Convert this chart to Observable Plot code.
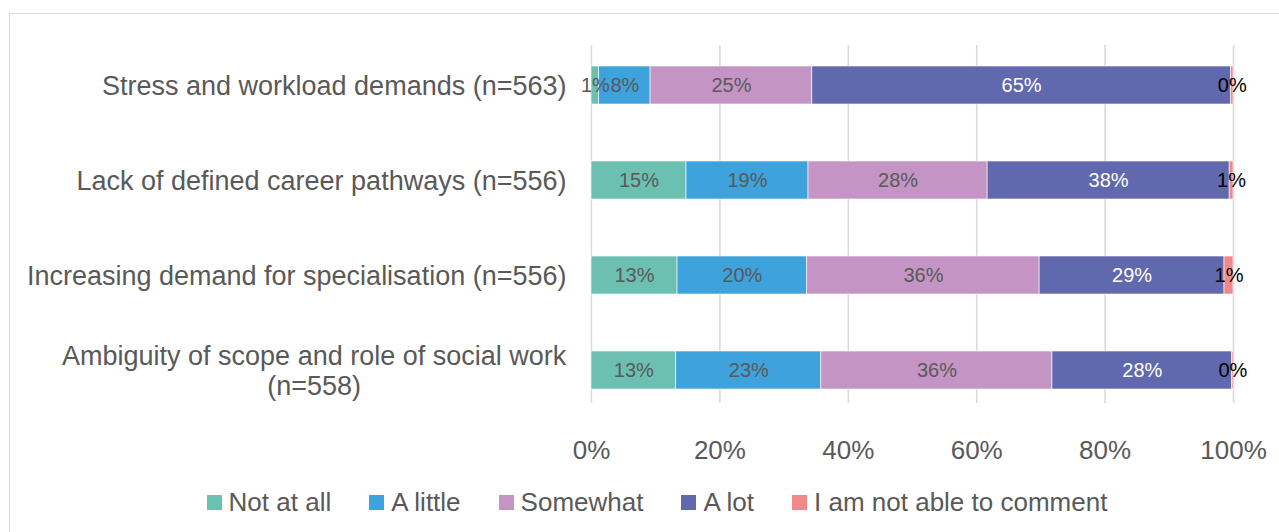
<!DOCTYPE html>
<html>
<head>
<meta charset="utf-8">
<script src="https://cdn.jsdelivr.net/npm/d3@7"></script>
<script src="https://cdn.jsdelivr.net/npm/@observablehq/plot@0.6"></script>
<style>
  html, body { margin: 0; padding: 0; background: #fff; }
  #wrap { position: relative; width: 1279px; height: 532px; overflow: hidden; font-family: "Liberation Sans", Arial, sans-serif; }
  #frame { position: absolute; left: 9px; top: 13px; width: 1320px; height: 600px; border: 1px solid #d9d9d9; box-sizing: border-box; }
  #chart { position: absolute; left: 0; top: 0; }
  #legend { position: absolute; left: 0; top: 487px; width: 1314px; display: flex; justify-content: center; align-items: center; font-size: 26px; line-height: 30px; color: #595959; }
  .item { display: flex; align-items: center; margin: 0 19px; }
  .sw { width: 15px; height: 15px; margin-right: 7px; }
</style>
</head>
<body>
<div id="wrap">
  <div id="frame"></div>
  <div id="chart"></div>
  <div id="legend"></div>
</div>
<script>
// ---- Data ----
const categories = [
  "Stress and workload demands (n=563)",
  "Lack of defined career pathways (n=556)",
  "Increasing demand for specialisation (n=556)",
  "Ambiguity of scope and role of social work\n(n=558)"
];
const responses = ["Not at all", "A little", "Somewhat", "A lot", "I am not able to comment"];
const notAtAll = [1.2, 14.8, 13.4, 13.2];
const aLittle  = [8.0, 19.0, 20.2, 22.6];
const somewhat = [25.2, 27.9, 36.2, 36.0];
const aLot     = [65.2, 37.7, 28.8, 28.0];
const notAble  = [0.4, 0.6, 1.4, 0.2];
const xTicks = [0, 20, 40, 60, 80, 100];

// ---- Styles ----
const colors = ["#6cc0b1", "#3ea2dc", "#c495c4", "#6169ae", "#f08a8a"];
const labelFill = {
  "Not at all": "#595959",
  "A little": "#595959",
  "Somewhat": "#595959",
  "A lot": "#ffffff",
  "I am not able to comment": "#000000"
};

const series = [notAtAll, aLittle, somewhat, aLot, notAble];
const data = categories.flatMap((c, i) => responses.map((r, j) => ({cat: c, resp: r, value: series[j][i]})));
const fmt = v => Math.round(v) + "%";

const labelMarks = Object.keys(labelFill).map(resp =>
  Plot.text(data, Plot.stackX({
    x: "value", y: "cat", z: "resp",
    text: d => d.resp === resp ? fmt(d.value) : null,
    fill: labelFill[resp], fontSize: 20
  }))
);

const chart = Plot.plot({
  width: 1279,
  height: 470,
  marginLeft: 591,
  marginRight: 46,
  marginTop: 45,
  marginBottom: 67,
  style: {fontFamily: "'Liberation Sans', Arial, sans-serif", color: "#595959", background: "transparent"},
  x: {domain: [0, 100]},
  y: {domain: categories, paddingInner: 0.6, paddingOuter: 0.17, align: 0.6},
  color: {domain: responses, range: colors},
  marks: [
    Plot.ruleX(xTicks, {stroke: "#d9d9d9", strokeWidth: 1.5}),
    Plot.barX(data, Plot.stackX({x: "value", y: "cat", fill: "resp", stroke: "#ffffff", strokeWidth: 0.6})),
    ...labelMarks,
    Plot.axisX({ticks: xTicks, tickFormat: d => d + "%", tickSize: 0, tickPadding: 37, fontSize: 26, label: null}),
    Plot.axisY({tickSize: 0, tickPadding: 25, fontSize: 27, lineHeight: 1.1, label: null})
  ]
});
document.getElementById("chart").appendChild(chart);

// center multi-line category label lines
chart.querySelectorAll('g[aria-label="y-axis tick label"] text').forEach(t => {
  const spans = t.querySelectorAll("tspan");
  if (spans.length > 1) {
    const w = t.getBBox().width;
    t.setAttribute("text-anchor", "middle");
    spans.forEach(s => s.setAttribute("x", -w / 2));
  }
});

// legend
const legend = document.getElementById("legend");
responses.forEach((r, i) => {
  const item = document.createElement("div");
  item.className = "item";
  const sw = document.createElement("span");
  sw.className = "sw";
  sw.style.background = colors[i];
  const tx = document.createElement("span");
  tx.textContent = r;
  item.appendChild(sw);
  item.appendChild(tx);
  legend.appendChild(item);
});
</script>
</body>
</html>
